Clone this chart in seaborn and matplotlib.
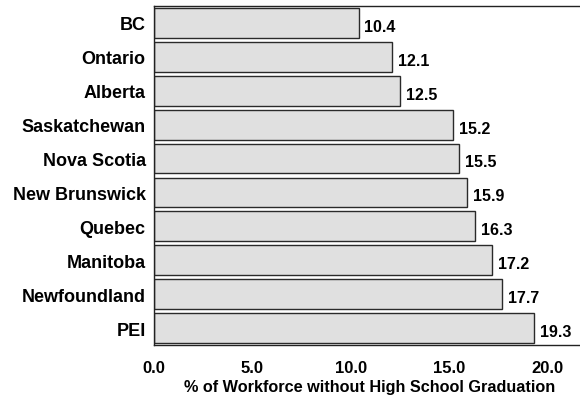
import matplotlib
matplotlib.use("Agg")
import matplotlib.pyplot as plt
import seaborn as sns
import pandas as pd

provinces = ["BC", "Ontario", "Alberta", "Saskatchewan", "Nova Scotia",
             "New Brunswick", "Quebec", "Manitoba", "Newfoundland", "PEI"]
pct_no_hs = [10.4, 12.1, 12.5, 15.2, 15.5, 15.9, 16.3, 17.2, 17.7, 19.3]
x_ticks = [0, 5, 10, 15, 20]
x_tick_labels = ["0.0", "5.0", "10.0", "15.0", "20.0"]

sns.set_style("white")
plt.rcParams["font.family"] = ["Liberation Sans", "DejaVu Sans"]
plt.rcParams["font.weight"] = "bold"
plt.rcParams["text.color"] = "black"
plt.rcParams["xtick.color"] = "black"
plt.rcParams["ytick.color"] = "black"
plt.rcParams["axes.labelcolor"] = "black"

df = pd.DataFrame({"province": provinces, "pct": pct_no_hs})

fig = plt.figure(figsize=(5.8, 4.02), dpi=100)
ax = fig.add_axes([154 / 580, 1 - 346 / 402, 1 - 154 / 580 + 0.01, (346 - 7) / 402])

sns.barplot(data=df, x="pct", y="province", orient="h", color="#e0e0e0",
            edgecolor="#2a2a2a", linewidth=1.0, width=0.88, saturation=1, ax=ax)

for i, v in enumerate(pct_no_hs):
    ax.text(v + 0.3, i + 0.1, f"{v:.1f}", va="center", ha="left",
            fontsize=11.5, fontweight="bold", color="black")

ax.set_xlim(0, 21.95)
ax.set_ylim(9.5, -0.5)
ax.set_xticks(x_ticks)
ax.set_xticklabels(x_tick_labels, fontsize=12, fontweight="bold")
ax.tick_params(axis="x", length=0, pad=11)
ax.tick_params(axis="y", length=0, pad=6, labelsize=13)
for lbl in ax.get_yticklabels():
    lbl.set_fontweight("bold")
ax.set_ylabel("")
ax.set_xlabel("% of Workforce without High School Graduation",
              fontsize=11.7, fontweight="bold", labelpad=3)

for side in ["left", "top", "bottom"]:
    ax.spines[side].set_visible(True)
    ax.spines[side].set_color("#222222")
    ax.spines[side].set_linewidth(1.0)
ax.spines["right"].set_visible(False)

fig.savefig("out.png", dpi=100)
